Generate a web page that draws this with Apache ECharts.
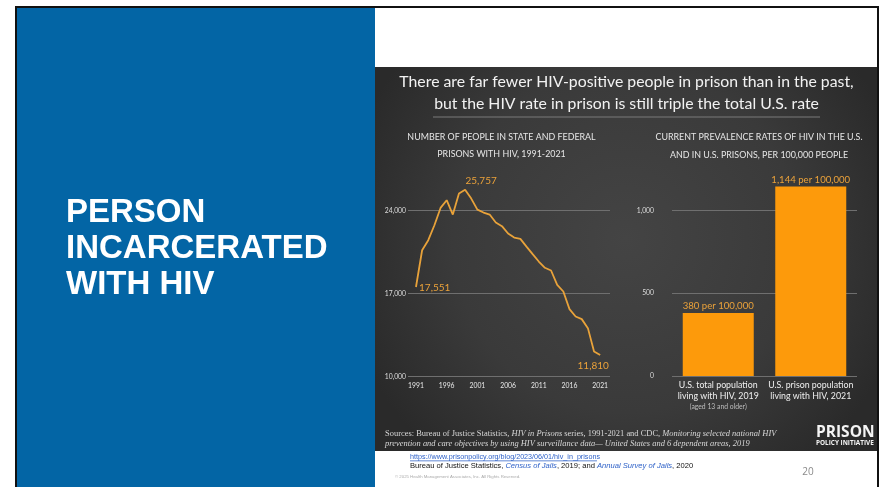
<!DOCTYPE html>
<html>
<head>
<meta charset="utf-8">
<script src="https://cdn.jsdelivr.net/npm/echarts@6/dist/echarts.min.js"></script>
<style>
html,body{margin:0;padding:0;background:#fff;}
#c{width:879px;height:487px;}
</style>
</head>
<body>
<div id="c"></div>
<script>
// ---------- DATA ----------
const years = [1991,1992,1993,1994,1995,1996,1997,1998,1999,2000,2001,2002,2003,2004,2005,2006,2007,2008,2009,2010,2011,2012,2013,2014,2015,2016,2017,2018,2019,2020,2021];
const prisonersWithHIV = [17551,20650,21500,22760,24220,24870,23660,25430,25757,25010,24080,23830,23660,22990,22680,22060,21720,21610,20960,20320,19700,19170,18940,17730,17170,15680,15060,14840,14080,12110,11810];
const calloutYears = [1991, 1999, 2021];
const yearTickLabels = [1991,1996,2001,2006,2011,2016,2021];
const countTicks = [10000, 17000, 24000];

const rateCategories = ['U.S. total population\nliving with HIV, 2019', 'U.S. prison population\nliving with HIV, 2021'];
const rateNotes = ['(aged 13 and older)', ''];
const ratePer100k = [380, 1144];
const rateTicks = [0, 500, 1000];

// ---------- TEXT ----------
const slideTitle = ['PERSON', 'INCARCERATED', 'WITH HIV'];
const chartTitle = ['There are far fewer HIV-positive people in prison than in the past,', 'but the HIV rate in prison is still triple the total U.S. rate'];
const leftSub = ['NUMBER OF PEOPLE IN STATE AND FEDERAL', 'PRISONS WITH HIV, 1991-2021'];
const rightSub = ['CURRENT PREVALENCE RATES OF HIV IN THE U.S.', 'AND IN U.S. PRISONS, PER 100,000 PEOPLE'];

const fmt = v => v.toLocaleString('en-US');
const FONT = 'Lato, "Noto Sans", sans-serif';
const ORANGE_LINE = '#E8A23A';
const ORANGE_TXT = '#EBA23A';
const BAR = '#FD9A0B';
const GRID = '#6f6f6f';

const calloutPos = {
  1991: {position:'right', distance:3, offset:[0,1]},
  1999: {position:'top', distance:3, offset:[16,-1]},
  2021: {position:'bottom', distance:3, offset:[-7,3]}
};

const lineData = years.map((y,i) => {
  const item = {value:[y, prisonersWithHIV[i]]};
  if (calloutYears.includes(y)) {
    item.label = Object.assign({show:true, formatter: p => fmt(p.value[1])}, calloutPos[y]);
  }
  return item;
});

const chart = echarts.init(document.getElementById('c'), null, {renderer:'canvas'});

const graphics = [
  // slide borders / blue panel
  {type:'rect', shape:{x:15,y:6,width:864,height:2}, style:{fill:'#111'}, z:-10},
  {type:'rect', shape:{x:15,y:6,width:2,height:481}, style:{fill:'#111'}, z:-10},
  {type:'rect', shape:{x:877,y:6,width:2,height:481}, style:{fill:'#111'}, z:-10},
  {type:'rect', shape:{x:17,y:8,width:358,height:479}, style:{fill:'#0365A5'}, z:-10},
  // dark infographic background
  {type:'rect', shape:{x:375,y:67,width:502,height:384}, z:-10,
    style:{fill:{type:'radial', x:0.5, y:0.45, r:0.75, colorStops:[{offset:0,color:'#444444'},{offset:0.6,color:'#3a3a3a'},{offset:1,color:'#2a2a2a'}]}}},
  // separator
  {type:'rect', shape:{x:433,y:116.5,width:387,height:1}, style:{fill:'#7a7a7a'}, z:-5},
];

slideTitle.forEach((t,i) => graphics.push({type:'text', x:66, y:[213,248.5,284.5][i], style:{text:t, fill:'#fff', font:'bold 33px "Liberation Sans", Arial, sans-serif', textVerticalAlign:'middle'}}));
chartTitle.forEach((t,i) => graphics.push({type:'text', x:626.5, y:[82,104][i], style:{text:t, fill:'#f2f2f2', font:'15.8px '+FONT, textAlign:'center', textVerticalAlign:'middle'}}));
leftSub.forEach((t,i) => graphics.push({type:'text', x:501.5, y:[137.5,154.5][i], style:{text:t, fill:'#e6e6e6', font:'8.9px '+FONT, textAlign:'center', textVerticalAlign:'middle'}}));
rightSub.forEach((t,i) => graphics.push({type:'text', x:759, y:[137.5,155][i], style:{text:t, fill:'#e6e6e6', font:'8.9px '+FONT, textAlign:'center', textVerticalAlign:'middle'}}));

// sources
graphics.push({type:'text', x:385, y:433.5, style:{
  text:'{n|Sources: Bureau of Justice Statistics, }{i|HIV in Prisons}{n| series, 1991-2021 and CDC, }{i|Monitoring selected national HIV}',
  textVerticalAlign:'middle',
  rich:{n:{fill:'#d8d8d8', font:'8.45px "Liberation Serif", serif'}, i:{fill:'#d8d8d8', font:'italic 8.45px "Liberation Serif", serif'}}}});
graphics.push({type:'text', x:385, y:443.5, style:{
  text:'prevention and care objectives by using HIV surveillance data\u2014 United States and 6 dependent areas, 2019',
  fill:'#d8d8d8', font:'italic 8.45px "Liberation Serif", serif', textVerticalAlign:'middle'}});
// logo
graphics.push({type:'text', x:816, y:433, style:{text:'PRISON', fill:'#f4f4f4', font:'bold 15.5px "Open Sans", sans-serif', textVerticalAlign:'middle'}});
graphics.push({type:'text', x:816, y:443.5, style:{text:'POLICY INITIATIVE', fill:'#f4f4f4', font:'bold 6.4px "Open Sans", sans-serif', textVerticalAlign:'middle'}});
// footer
graphics.push({type:'text', x:410, y:457, style:{text:'https://www.prisonpolicy.org/blog/2023/06/01/hiv_in_prisons', fill:'#2f62c8', font:'7.2px "Liberation Sans", Arial, sans-serif', textVerticalAlign:'middle'}});
graphics.push({type:'rect', shape:{x:410,y:460.5,width:187,height:0.7}, style:{fill:'#2f62c8'}});
graphics.push({type:'text', x:410, y:466, style:{
  text:'{k|Bureau of Justice Statistics, }{l|Census of Jails}{k|, 2019; and }{l|Annual Survey of Jails}{k|, 2020}',
  textVerticalAlign:'middle',
  rich:{k:{fill:'#111', font:'7.6px "Liberation Sans", Arial, sans-serif'}, l:{fill:'#2f62c8', font:'italic 7.6px "Liberation Sans", Arial, sans-serif'}}}});
graphics.push({type:'text', x:395, y:477, style:{text:'\u00a9 2025 Health Management Associates, Inc. All Rights Reserved.', fill:'#aaa', font:'4.3px "Liberation Sans", Arial, sans-serif', textVerticalAlign:'middle'}});
graphics.push({type:'text', x:808, y:472, style:{text:'20', fill:'#8a8a8a', font:'10px "Open Sans", sans-serif', textAlign:'center', textVerticalAlign:'middle'}});

const option = {
  backgroundColor:'#ffffff',
  animation:false,
  graphic: graphics,
  grid:[
    {left:408, top:180.9, width:202, height:195.6},
    {left:672, top:169, width:185, height:207}
  ],
  xAxis:[
    {gridIndex:0, type:'value', min:1989.7, max:2022.6,
      axisLine:{show:false}, axisTick:{show:false}, splitLine:{show:false},
      axisLabel:{customValues:yearTickLabels, color:'#e8e8e8', fontSize:6.8, fontFamily:FONT, margin:6, formatter:v=>String(v)}},
    {gridIndex:1, type:'category', data:rateCategories,
      axisLine:{show:false}, axisTick:{show:false},
      axisLabel:{interval:0, margin:4, formatter:(v,i)=> v.split('\n').map(s=>'{a|'+s+'}').join('\n') + (rateNotes[i] ? '\n{b|'+rateNotes[i]+'}' : ''),
        rich:{a:{color:'#f0f0f0', fontSize:8.8, fontFamily:FONT, lineHeight:11}, b:{color:'#bdbdbd', fontSize:6.8, fontFamily:FONT, lineHeight:10}}}}
  ],
  yAxis:[
    {gridIndex:0, type:'value', min:10000, max:26500, interval:7000,
      axisLine:{show:false}, axisTick:{show:false},
      splitLine:{show:true, showMaxLine:false, lineStyle:{color:GRID, width:1}},
      axisLabel:{showMaxLabel:false, color:'#dcdcdc', fontSize:6.8, fontFamily:FONT, margin:2, formatter:v=>countTicks.includes(v)?fmt(v):''}},
    {gridIndex:1, type:'value', min:0, max:1250, interval:500,
      axisLine:{show:false}, axisTick:{show:false},
      splitLine:{show:true, showMaxLine:false, lineStyle:{color:GRID, width:1}},
      axisLabel:{showMaxLabel:false, color:'#dcdcdc', fontSize:6.8, fontFamily:FONT, margin:18, formatter:v=>rateTicks.includes(v)?fmt(v):''}}
  ],
  series:[
    {type:'line', xAxisIndex:0, yAxisIndex:0, data:lineData,
      symbol:'circle', symbolSize:0.1, showSymbol:true,
      lineStyle:{color:ORANGE_LINE, width:1.8}, itemStyle:{color:ORANGE_LINE},
      label:{show:false, color:ORANGE_TXT, fontSize:10, fontFamily:FONT}},
    {type:'bar', xAxisIndex:1, yAxisIndex:1, data:ratePer100k, barWidth:71,
      itemStyle:{color:BAR},
      label:{show:true, position:'top', distance:2, color:ORANGE_TXT, fontSize:9.6, fontFamily:FONT,
        formatter:p=>fmt(p.value)+' per 100,000'}}
  ]
};
chart.setOption(option);
</script>
</body>
</html>
